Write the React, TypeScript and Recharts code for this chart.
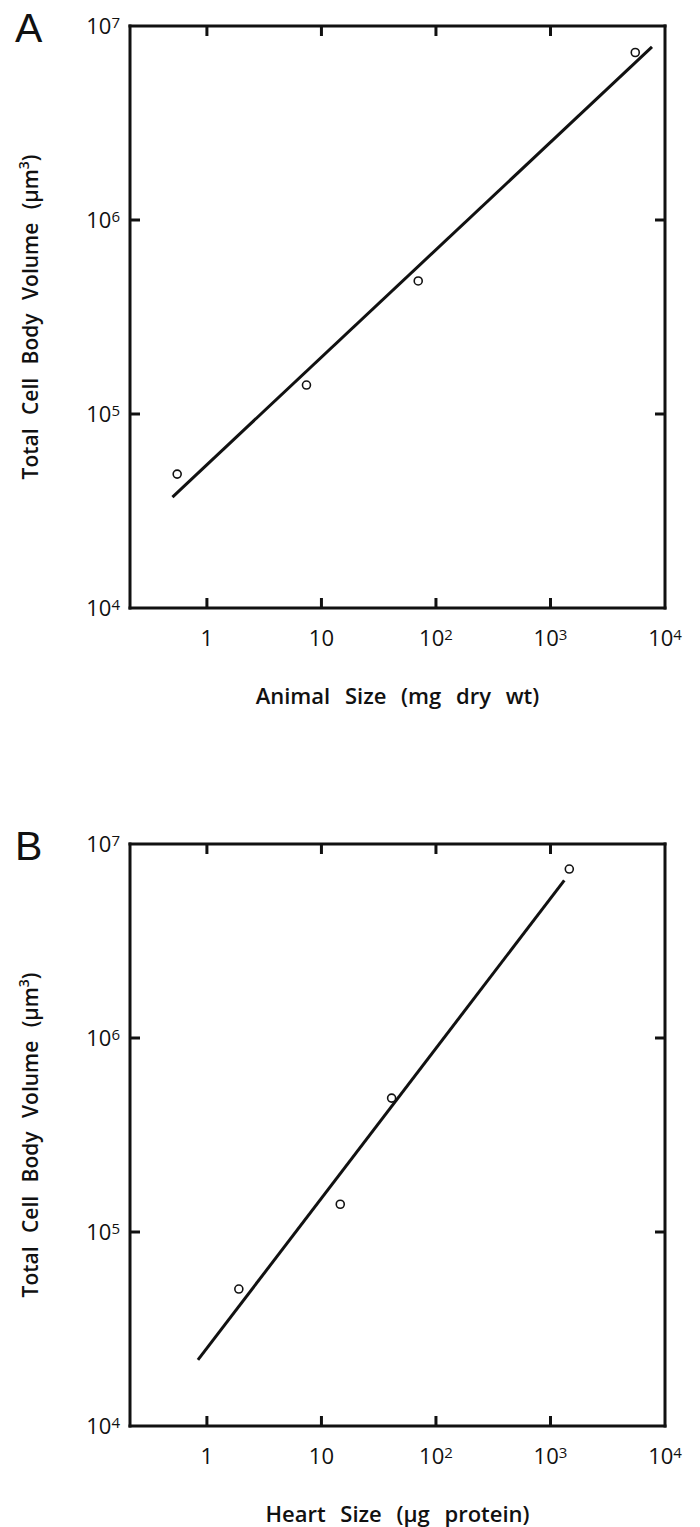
import { Scatter, ScatterChart, XAxis, YAxis, Label } from 'recharts';

const xTicks = [1, 10, 100, 1000, 10000];
const yTicks = [1e4, 1e5, 1e6, 1e7];

// panel A: animal size vs total cell body volume
const animalSize = [0.55, 7.4, 70, 5500];
const cellVolumeA = [49000, 141000, 485000, 7300000];
const fitAnimalSize = [0.5, 7700];
const fitCellVolumeA = [37300, 7800000];

// panel B: heart size vs total cell body volume
const heartSize = [1.9, 14.6, 41, 1460];
const cellVolumeB = [50800, 139000, 490000, 7430000];
const fitHeartSize = [0.835, 1320];
const fitCellVolumeB = [21900, 6500000];

const FONT = '"Open Sans", sans-serif';
const INK = '#111';

function PowerText({ value, x, y, anchor }: { value: number; x: number; y: number; anchor: 'start' | 'middle' | 'end' }) {
  const exp = Math.round(Math.log10(value));
  if (exp <= 1) {
    return (
      <text x={x} y={y} textAnchor={anchor} fontFamily={FONT} fontSize={22} fill={INK}>
        {String(value)}
      </text>
    );
  }
  return (
    <text x={x} y={y} textAnchor={anchor} fontFamily={FONT} fontSize={22} fill={INK}>
      <tspan>10</tspan>
      <tspan dy={-6} fontSize={15}>{exp}</tspan>
    </text>
  );
}

const BottomTick = (props: any) => {
  const { x, y, payload } = props;
  const v = payload.value;
  return (
    <g>
      {v < 10000 && <line x1={x} x2={x} y1={y} y2={y - 10} stroke={INK} strokeWidth={3} />}
      <PowerText value={v} x={x} y={y + 38} anchor="middle" />
    </g>
  );
};

const TopTick = (props: any) => {
  const { x, y, payload } = props;
  if (payload.value >= 10000) return <g />;
  return <line x1={x} x2={x} y1={y} y2={y + 10} stroke={INK} strokeWidth={3} />;
};

const LeftTick = (props: any) => {
  const { x, y, payload } = props;
  const v = payload.value;
  const inner = v > 1e4 && v < 1e7;
  return (
    <g>
      {inner && <line x1={x} x2={x + 10} y1={y} y2={y} stroke={INK} strokeWidth={3} />}
      <PowerText value={v} x={x - 10} y={y + 8} anchor="end" />
    </g>
  );
};

const RightTick = (props: any) => {
  const { x, y, payload } = props;
  const v = payload.value;
  if (!(v > 1e4 && v < 1e7)) return <g />;
  return <line x1={x} x2={x - 10} y1={y} y2={y} stroke={INK} strokeWidth={3} />;
};

const Marker = (props: any) => (
  <circle cx={props.cx} cy={props.cy} r={4} fill="#fff" stroke={INK} strokeWidth={1.6} />
);

const axisLine = { stroke: INK, strokeWidth: 3, strokeLinecap: 'square' as const };

interface PanelProps {
  letter: string;
  top: number;
  height: number;
  marginTop: number;
  xs: number[];
  ys: number[];
  fitXs: number[];
  fitYs: number[];
  xTitle: string;
}

function Panel({ letter, top, height, marginTop, xs, ys, fitXs, fitYs, xTitle }: PanelProps) {
  const points = xs.map((x, i) => ({ x, y: ys[i] }));
  const fit = fitXs.map((x, i) => ({ x, y: fitYs[i] }));
  return (
    <div style={{ position: 'absolute', left: 0, top, width: 700, height }}>
      <ScatterChart
        width={700}
        height={height}
        margin={{ top: marginTop - 1, right: 34, bottom: height - marginTop - 582 - 100, left: 0 }}
      >
        <XAxis
          xAxisId="b"
          dataKey="x"
          type="number"
          scale="log"
          domain={[0.213, 10000]}
          allowDataOverflow
          ticks={xTicks}
          interval={0}
          orientation="bottom"
          height={100}
          tickSize={0}
          tickMargin={0}
          tickLine={false}
          axisLine={axisLine}
          tick={BottomTick}
        >
          <Label
            content={(p: any) => (
              <text
                x={p.viewBox.x + p.viewBox.width / 2}
                y={p.viewBox.y + 96}
                textAnchor="middle"
                fontFamily={FONT}
                fontSize={22}
                fontWeight={600}
                wordSpacing={9}
                fill={INK}
              >
                {xTitle}
              </text>
            )}
          />
        </XAxis>
        <XAxis
          xAxisId="t"
          dataKey="x"
          type="number"
          scale="log"
          domain={[0.213, 10000]}
          allowDataOverflow
          ticks={xTicks}
          interval={0}
          orientation="top"
          height={1}
          tickSize={0}
          tickMargin={0}
          tickLine={false}
          axisLine={axisLine}
          tick={TopTick}
        />
        <YAxis
          yAxisId="l"
          dataKey="y"
          type="number"
          scale="log"
          domain={[1e4, 1e7]}
          allowDataOverflow
          ticks={yTicks}
          interval={0}
          orientation="left"
          width={130}
          tickSize={0}
          tickMargin={0}
          tickLine={false}
          axisLine={axisLine}
          tick={LeftTick}
        >
          <Label
            content={(p: any) => {
              const cx = p.viewBox.x + 30;
              const cy = p.viewBox.y + p.viewBox.height / 2;
              return (
                <g>
                  <text
                    x={p.viewBox.x + 15}
                    y={p.viewBox.y + 16}
                    fontFamily='"Liberation Sans", Arial, sans-serif'
                    fontSize={41}
                    fill={INK}
                  >
                    {letter}
                  </text>
                  <text
                    x={cx}
                    y={cy}
                    transform={`rotate(-90 ${cx} ${cy})`}
                    textAnchor="middle"
                    dominantBaseline="central"
                    fontFamily={FONT}
                    fontSize={21}
                    fontWeight={600}
                    wordSpacing={8}
                    fill={INK}
                  >
                    <tspan>Total Cell Body Volume (µm</tspan>
                    <tspan dy={-7} fontSize={14}>3</tspan>
                    <tspan dy={7}>)</tspan>
                  </text>
                </g>
              );
            }}
          />
        </YAxis>
        <YAxis
          yAxisId="r"
          dataKey="y"
          type="number"
          scale="log"
          domain={[1e4, 1e7]}
          allowDataOverflow
          ticks={yTicks}
          interval={0}
          orientation="right"
          width={1}
          tickSize={0}
          tickMargin={0}
          tickLine={false}
          axisLine={axisLine}
          tick={RightTick}
        />
        <Scatter
          xAxisId="b"
          yAxisId="l"
          data={fit}
          line={{ stroke: INK, strokeWidth: 3 }}
          shape={() => <g />}
          isAnimationActive={false}
        />
        <Scatter xAxisId="b" yAxisId="l" data={points} shape={Marker} isAnimationActive={false} />
        {/* binds the top and right frame axes */}
        <Scatter xAxisId="t" yAxisId="r" data={points} shape={() => <g />} isAnimationActive={false} />
      </ScatterChart>
    </div>
  );
}

export default function App() {
  return (
    <div style={{ position: 'absolute', left: 0, top: 0, width: 700, height: 1527, background: '#fff' }}>
      <Panel
        letter="A"
        top={0}
        height={750}
        marginTop={26}
        xs={animalSize}
        ys={cellVolumeA}
        fitXs={fitAnimalSize}
        fitYs={fitCellVolumeA}
        xTitle="Animal Size (mg dry wt)"
      />
      <Panel
        letter="B"
        top={750}
        height={777}
        marginTop={94}
        xs={heartSize}
        ys={cellVolumeB}
        fitXs={fitHeartSize}
        fitYs={fitCellVolumeB}
        xTitle="Heart Size (µg protein)"
      />
    </div>
  );
}
